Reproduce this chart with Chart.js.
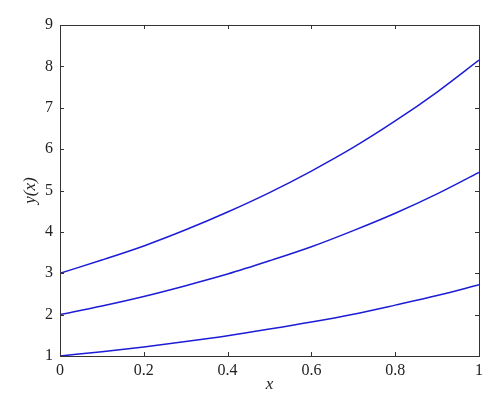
<!DOCTYPE html>
<html lang="en">
<head>
<meta charset="UTF-8">
<title>y(x)</title>
<script src="https://cdn.jsdelivr.net/npm/chart.js"></script>
<style>
  html, body { margin: 0; padding: 0; background: #fff; }
  #wrap { width: 500px; height: 415px; }
</style>
</head>
<body>
<div id="wrap"><canvas id="chart" width="500" height="415"></canvas></div>
<script>
// values
const xValues = [0, 0.1, 0.2, 0.3, 0.4, 0.5, 0.6, 0.7, 0.8, 0.9, 1];
const lowerCurve = [1, 1.105, 1.22, 1.35, 1.49, 1.65, 1.82, 2.01, 2.23, 2.46, 2.72];
const middleCurve = [2, 2.21, 2.44, 2.70, 2.98, 3.30, 3.64, 4.03, 4.45, 4.92, 5.44];
const upperCurve = [3, 3.32, 3.66, 4.05, 4.48, 4.95, 5.47, 6.04, 6.68, 7.38, 8.15];
const xTicks = [0, 0.2, 0.4, 0.6, 0.8, 1];
const yTicks = [1, 2, 3, 4, 5, 6, 7, 8, 9];

const lineColor = '#1c1cd6';
const tickFont = { family: 'Liberation Serif', size: 16 };

function toPoints(ys) {
    return xValues.map((x, i) => ({ x: x, y: ys[i] }));
}

function makeSet(ys) {
    return {
        data: toPoints(ys),
        borderColor: lineColor,
        borderWidth: 1.5,
        pointRadius: 0,
        fill: false,
        cubicInterpolationMode: 'monotone'
    };
}

// box frame and inward tick marks
const frameAndTicks = {
    id: 'frameAndTicks',
    afterDatasetsDraw(chart) {
        const ctx = chart.ctx;
        const a = chart.chartArea;
        const xs = chart.scales.x, ys = chart.scales.y;
        ctx.save();
        ctx.strokeStyle = '#333';
        ctx.lineWidth = 1;
        ctx.strokeRect(a.left + 0.5, a.top + 0.5, a.right - a.left, a.bottom - a.top);
        const len = 4;
        ctx.beginPath();
        xTicks.forEach(v => {
            const px = Math.round(xs.getPixelForValue(v)) + 0.5;
            ctx.moveTo(px, a.bottom); ctx.lineTo(px, a.bottom - len);
            ctx.moveTo(px, a.top); ctx.lineTo(px, a.top + len);
        });
        yTicks.forEach(v => {
            const py = Math.round(ys.getPixelForValue(v)) + 0.5;
            ctx.moveTo(a.left, py); ctx.lineTo(a.left + len, py);
            ctx.moveTo(a.right, py); ctx.lineTo(a.right - len, py);
        });
        ctx.stroke();
        ctx.restore();
    }
};

new Chart(document.getElementById('chart').getContext('2d'), {
    type: 'line',
    data: {
        datasets: [makeSet(lowerCurve), makeSet(middleCurve), makeSet(upperCurve)]
    },
    options: {
        responsive: false,
        animation: false,
        layout: { padding: { top: 25, right: 21, bottom: 20, left: 0 } },
        plugins: { legend: { display: false }, tooltip: { enabled: false } },
        scales: {
            x: {
                type: 'linear',
                min: 0, max: 1,
                afterBuildTicks: s => { s.ticks = xTicks.map(v => ({ value: v })); },
                afterFit: s => { s.height = 39; },
                grid: { display: false, drawTicks: false },
                border: { display: false },
                ticks: {
                    color: '#222', font: tickFont, padding: 5, maxRotation: 0,
                    callback: v => String(v)
                },
                title: {
                    display: true, text: 'x', color: '#222', padding: 0,
                    font: { family: 'Liberation Serif', size: 17, style: 'italic' }
                }
            },
            y: {
                min: 1, max: 9,
                afterBuildTicks: s => { s.ticks = yTicks.map(v => ({ value: v })); },
                afterFit: s => { s.width = 60; },
                grid: { display: false, drawTicks: false },
                border: { display: false },
                ticks: { color: '#222', font: tickFont, padding: 7 },
                title: {
                    display: true, text: 'y(x)', color: '#222', padding: { top: 20, bottom: 0 },
                    font: { family: 'Liberation Serif', size: 17, style: 'italic' }
                }
            }
        }
    },
    plugins: [frameAndTicks]
});
</script>
</body>
</html>
